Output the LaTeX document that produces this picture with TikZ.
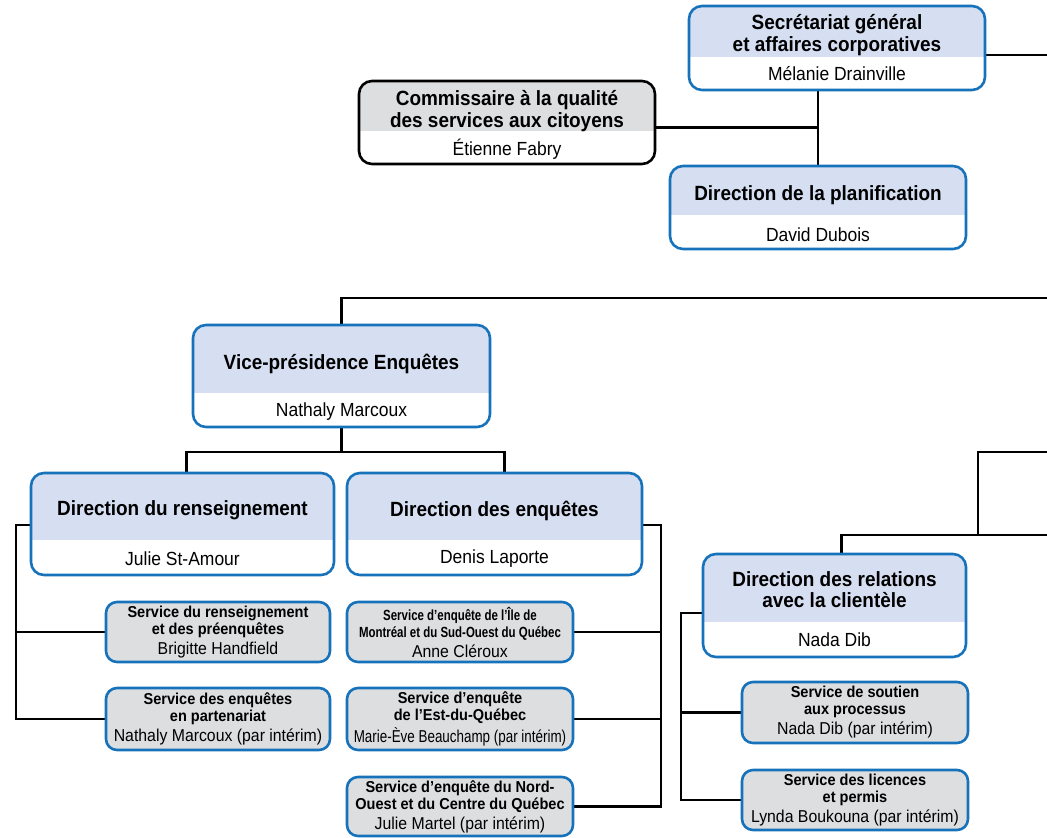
\documentclass[tikz,border=0pt]{standalone}
\usepackage{fontspec}
\setmainfont{Liberation Sans}[FakeStretch=0.92]
\newfontfamily\narrowsans{Liberation Sans}[FakeStretch=0.78]
\usetikzlibrary{backgrounds}

\definecolor{orgblue}{RGB}{22,114,186}
\definecolor{headblue}{RGB}{214,222,242}
\definecolor{servgray}{RGB}{221,222,224}

\newcommand\servname[1]{\\[3pt]{\mdseries\fontsize{17.2}{18}\selectfont #1}}

\tikzset{
  head colour/.store in=\headcolour, head colour=headblue,
  unit/.style={draw=orgblue, fill=white, line width=2.6pt, rounded corners=13pt, inner sep=0pt,
    path picture={\fill[\headcolour, sharp corners] (path picture bounding box.north west)
      rectangle ([yshift=-#1]path picture bounding box.north east);}},
  titletxt/.style={font=\fontsize{20.6}{21.5}\selectfont\bfseries, align=center, inner sep=0pt},
  nametxt/.style={font=\fontsize{19}{20}\selectfont, inner sep=0pt},
  service/.style={draw=orgblue, fill=servgray, line width=2.6pt, rounded corners=11pt,
    minimum width=226pt, minimum height=60pt, inner sep=0pt, align=center,
    font=\fontsize{15.8}{17}\selectfont\bfseries},
  conn/.style={line width=2.8pt, black}
}

\begin{document}
\begin{tikzpicture}[x=1pt,y=-1pt]
\useasboundingbox (0,0) rectangle (1047,838);

% haut de l'organigramme
\node[unit=51pt, minimum width=296pt, minimum height=84pt] (sg) at (837,48) {};
\node[titletxt] (sg-t) at (837,35) {Secrétariat général\\et affaires corporatives};
\node[nametxt] (sg-n) at (837,74) {Mélanie Drainville};

\node[unit=50pt, draw=black, head colour=servgray, minimum width=296pt, minimum height=83pt] (com) at (507,122.5) {};
\node[titletxt] (com-t) at (507,111) {Commissaire à la qualité\\des services aux citoyens};
\node[nametxt] (com-n) at (507,149) {Étienne Fabry};

\node[unit=49pt, minimum width=296pt, minimum height=83pt] (plan) at (818,207.5) {};
\node[titletxt] (plan-t) at (818,195) {Direction de la planification};
\node[nametxt] (plan-n) at (818,235) {David Dubois};

% enquetes
\node[unit=68pt, minimum width=297pt, minimum height=102pt] (vp) at (341.5,376) {};
\node[titletxt] (vp-t) at (341.5,363.5) {Vice-présidence Enquêtes};
\node[nametxt] (vp-n) at (341.5,412) {Nathaly Marcoux};

\node[unit=67pt, minimum width=303pt, minimum height=102pt] (dr) at (182.5,524) {};
\node[titletxt] (dr-t) at (182.5,510.5) {Direction du renseignement};
\node[nametxt] (dr-n) at (182.5,559) {Julie St-Amour};

\node[unit=67pt, minimum width=295pt, minimum height=102pt] (de) at (494.5,524) {};
\node[titletxt] (de-t) at (494.5,510.5) {Direction des enquêtes};
\node[nametxt] (de-n) at (494.5,559) {Denis Laporte};

\node[service, minimum width=224pt] (s1) at (218,632) {Service du renseignement\\et des préenquêtes\servname{Brigitte Handfield}};
\node[service, minimum width=224pt, minimum height=62pt] (s2) at (218,719) {Service des enquêtes\\en partenariat\servname{Nathaly Marcoux (par intérim)}};

\node[service] (m1) at (460,632) {{\narrowsans\fontsize{14.7}{16}\selectfont Service d’enquête de l’Île de}\\{\narrowsans\fontsize{14.7}{16}\selectfont Montréal et du Sud-Ouest du Québec}\servname{Anne Cléroux}};
\node[service, minimum height=62pt] (m2) at (460,719) {Service d’enquête\\de l’Est-du-Québec\\[3pt]{\mdseries\narrowsans\fontsize{17.2}{18}\selectfont Marie-Ève Beauchamp (par intérim)}};
\node[service, minimum height=59pt] (m3) at (460,806.5) {Service d’enquête du Nord-\\Ouest et du Centre du Québec\servname{Julie Martel (par intérim)}};

% relations avec la clientele
\node[unit=68pt, minimum width=263pt, minimum height=103pt] (rc) at (834.5,605.5) {};
\node[titletxt] (rc-t) at (834.5,589.5) {Direction des relations\\avec la clientèle};
\node[nametxt] (rc-n) at (834.5,640) {Nada Dib};

\node[service, minimum height=61pt] (r1) at (855,712.5) {Service de soutien\\aux processus\servname{Nada Dib (par intérim)}};
\node[service] (r2) at (855,800) {Service des licences\\et permis\servname{Lynda Boukouna (par intérim)}};

% liens
\coordinate (sg-out) at (1047,55);
\coordinate (enq-out) at (1047,298);
\coordinate (rel-out) at (1047,452);
\coordinate (rel-bar) at (1047,535);
\coordinate (rel-knee) at (978,535);
\coordinate (vp-fork) at (341.5,452);
\coordinate (dr-spine) at (16,525);
\coordinate (de-spine) at (661,525);
\coordinate (rc-spine) at (681,613);

\begin{scope}[on background layer]
\draw[conn] (sg.east |- sg-out) -- (sg-out);
\draw[conn] (plan.north) -- (plan.north |- sg.south);
\draw[conn] ([yshift=-5pt]com.east) -- ([yshift=-5pt]com.east -| plan.north);
\draw[conn] (vp.north) |- (enq-out);
\draw[conn] (vp.south) -- (vp-fork);
\draw[conn] ([xshift=4pt]dr.north) |- (vp-fork) -| ([xshift=10pt]de.north);
\draw[conn] (dr.west |- dr-spine) -- (dr-spine) |- (s2.west);
\draw[conn] (s1.west) -- (s1.west -| dr-spine);
\draw[conn] (de.east |- de-spine) -- (de-spine) |- (m3.east);
\draw[conn] (m1.east) -- (m1.east -| de-spine);
\draw[conn] (m2.east) -- (m2.east -| de-spine);
\draw[conn] (rel-out) -| (rel-knee);
\draw[conn] (rel-bar) -| ([xshift=7pt]rc.north);
\draw[conn] (rc.west |- rc-spine) -- (rc-spine) |- (r2.west);
\draw[conn] (r1.west) -- (r1.west -| rc-spine);
\end{scope}
\end{tikzpicture}
\end{document}
